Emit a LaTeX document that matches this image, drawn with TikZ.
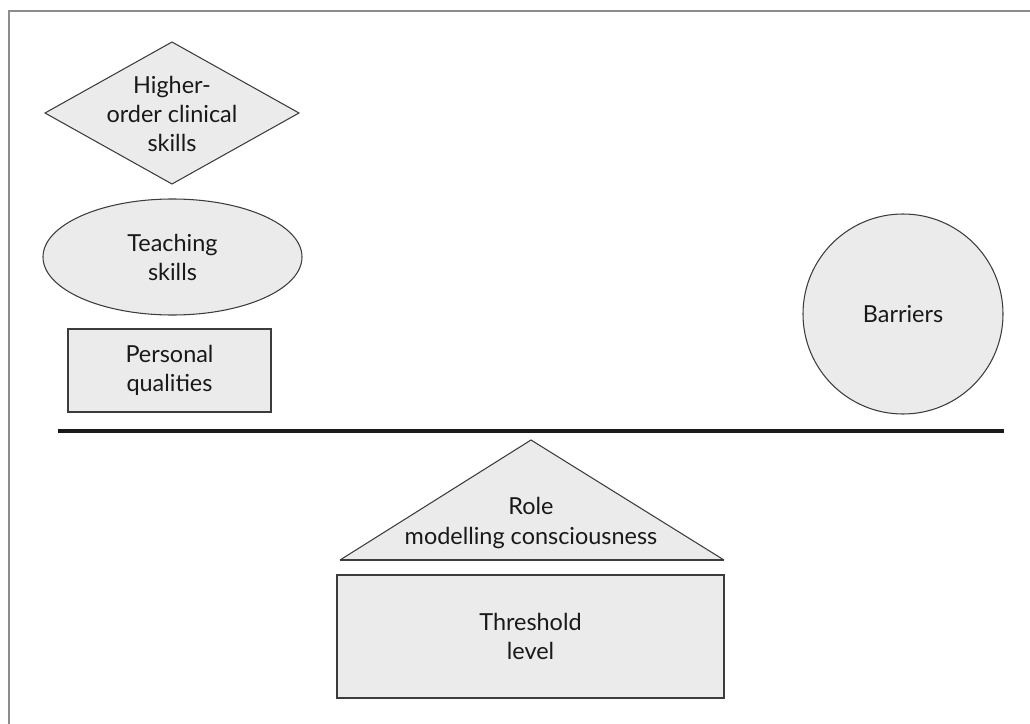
\documentclass[tikz,border=0pt]{standalone}
\usepackage{fontspec}
\setmainfont{Lato}
\usetikzlibrary{shapes.geometric}
\definecolor{boxfill}{HTML}{EBEBEB}
\definecolor{boxline}{HTML}{3C3C3C}
\definecolor{framegray}{HTML}{8C8C8C}

\begin{document}
\begin{tikzpicture}[x=0.03cm,y=-0.03cm,
    part/.style={draw=boxline,fill=boxfill,line width=0.9pt},
    lbl/.style={align=center,font=\fontsize{20pt}{24.8pt}\selectfont,text=black!90}]
      \useasboundingbox (0,0) rectangle (1030,724) ;
      \draw[framegray,line width=1.6pt] (9,724)--(9,11)--(1030,11) ;
      % left pile
      \draw[part] (45,113)--(172,42)--(299,113)--(172,184)--cycle ;
      \node[lbl] (higher) at (172,114) {Higher-\\order clinical\\skills} ;
      \node[part,lbl,shape=ellipse,minimum width=7.77cm,minimum height=3.48cm] %
      (teach) at (172.5,257) {Teaching\\skills} ;
      \node[part,lbl,shape=rectangle,minimum width=6.09cm,minimum height=2.49cm] %
      (pers) at (169.5,370.5) {Personal\\qualities} ;
      % right side
      \node[part,lbl,shape=circle,minimum size=6cm,inner sep=0pt] %
      (barr) at (903,314) {Barriers} ;
      % balance beam
      \draw[line width=2.8pt,black!90] (58,431)--(1004,431) ;
      % fulcrum
      \draw[part] (340,560)--(531,440)--(724,560) ;
      \draw[boxline,line width=2pt] (340,560)--(724,560) ;
      \node[lbl] (role) at (531,523) {Role\\modelling consciousness} ;
      \node[part,lbl,shape=rectangle,minimum width=11.61cm,minimum height=3.69cm] %
      (thresh) at (530.5,636.5) {Threshold\\level} ;
    \end{tikzpicture}
\end{document}
